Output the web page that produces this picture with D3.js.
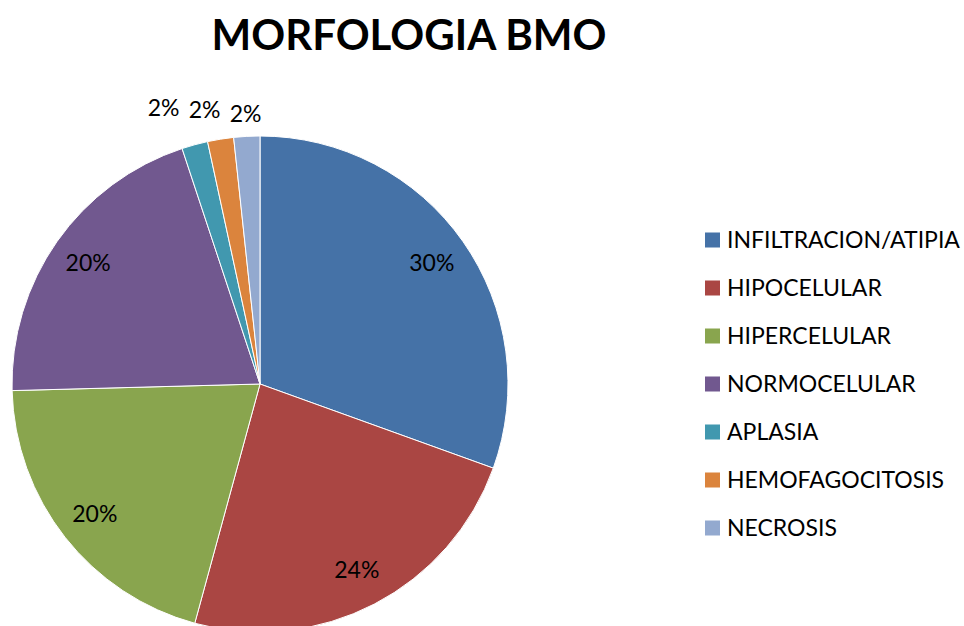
<!DOCTYPE html>
<html lang="es">
<head>
<meta charset="UTF-8">
<title>MORFOLOGIA BMO</title>
<script src="https://d3js.org/d3.v7.min.js"></script>
<style>
  body { margin: 0; background: #fff; }
  svg { display: block; font-family: Lato, "Liberation Sans", sans-serif; }
</style>
</head>
<body>
<div id="chart"></div>
<script>
// data (counts behind the percentages)
var categories = ["INFILTRACION/ATIPIA", "HIPOCELULAR", "HIPERCELULAR", "NORMOCELULAR",
                  "APLASIA", "HEMOFAGOCITOSIS", "NECROSIS"];
var counts = [18, 14, 12, 12, 1, 1, 1];
var pctLabels = ["30%", "24%", "20%", "20%", "2%", "2%", "2%"];
var colors = ["#4572A7", "#AA4643", "#89A54E", "#71588F", "#4198AF", "#DB843D", "#93A9CF"];

var width = 964, height = 626;
var cx = 260, cy = 384, radius = 248;

var svg = d3.select("#chart").append("svg")
    .attr("width", width)
    .attr("height", height);

// title
svg.append("text")
    .attr("x", 409)
    .attr("y", 50)
    .attr("text-anchor", "middle")
    .style("font-size", "42px")
    .style("font-weight", "bold")
    .text("MORFOLOGIA BMO");

var data = categories.map(function (c, i) {
    return { name: c, value: counts[i], label: pctLabels[i], color: colors[i] };
});

var pie = d3.pie().sort(null).value(function (d) { return d.value; });
var arc = d3.arc().innerRadius(0).outerRadius(radius);
var arcs = pie(data);

var g = svg.append("g").attr("transform", "translate(" + cx + "," + cy + ")");

g.selectAll("path")
    .data(arcs)
    .enter()
    .append("path")
    .attr("d", arc)
    .style("fill", function (d) { return d.data.color; })
    .style("stroke", "#fff")
    .style("stroke-width", 1);

// labels: big slices inside, small ones outside with a simple overlap push
var inner = d3.arc().innerRadius(210).outerRadius(210);
var outer = d3.arc().innerRadius(radius + 22).outerRadius(radius + 22);
var minGap = 41;
var placed = [];
for (var i = arcs.length - 1; i >= 0; i--) {
    var a = arcs[i];
    var small = (a.endAngle - a.startAngle) < 0.2;
    var p = small ? outer.centroid(a) : inner.centroid(a);
    if (small && placed.length) {
        var prev = placed[placed.length - 1];
        if (prev.small && p[0] > prev.x - minGap) {
            var shift = p[0] - (prev.x - minGap);
            p[0] -= shift;
            p[1] -= shift * 0.62;
        }
    }
    placed.push({ x: p[0], y: p[1], small: small, label: a.data.label });
}

g.selectAll("text.pct")
    .data(placed)
    .enter()
    .append("text")
    .attr("class", "pct")
    .attr("x", function (d) { return d.x; })
    .attr("y", function (d) { return d.y; })
    .attr("dy", "0.35em")
    .attr("text-anchor", "middle")
    .style("font-size", "23px")
    .style("fill", "#000")
    .text(function (d) { return d.label; });

// legend
var legend = svg.selectAll(".legend")
    .data(data)
    .enter()
    .append("g")
    .attr("class", "legend")
    .attr("transform", function (d, i) { return "translate(705," + (240 + i * 48) + ")"; });

legend.append("rect")
    .attr("x", 0)
    .attr("y", -7.5)
    .attr("width", 15)
    .attr("height", 15)
    .style("fill", function (d) { return d.color; });

legend.append("text")
    .attr("x", 22)
    .attr("y", 0)
    .attr("dy", "0.35em")
    .style("font-size", "23px")
    .style("fill", "#000")
    .text(function (d) { return d.name; });
</script>
</body>
</html>
